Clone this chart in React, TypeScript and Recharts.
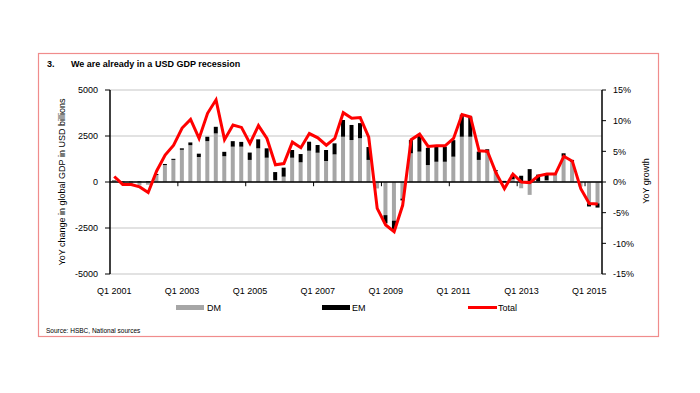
import React from 'react';
import { ComposedChart, Bar, Line, XAxis, YAxis, CartesianGrid, ReferenceLine } from 'recharts';

const quarters: string[] = [
  'Q1 2001', 'Q2 2001', 'Q3 2001', 'Q4 2001',
  'Q1 2002', 'Q2 2002', 'Q3 2002', 'Q4 2002',
  'Q1 2003', 'Q2 2003', 'Q3 2003', 'Q4 2003',
  'Q1 2004', 'Q2 2004', 'Q3 2004', 'Q4 2004',
  'Q1 2005', 'Q2 2005', 'Q3 2005', 'Q4 2005',
  'Q1 2006', 'Q2 2006', 'Q3 2006', 'Q4 2006',
  'Q1 2007', 'Q2 2007', 'Q3 2007', 'Q4 2007',
  'Q1 2008', 'Q2 2008', 'Q3 2008', 'Q4 2008',
  'Q1 2009', 'Q2 2009', 'Q3 2009', 'Q4 2009',
  'Q1 2010', 'Q2 2010', 'Q3 2010', 'Q4 2010',
  'Q1 2011', 'Q2 2011', 'Q3 2011', 'Q4 2011',
  'Q1 2012', 'Q2 2012', 'Q3 2012', 'Q4 2012',
  'Q1 2013', 'Q2 2013', 'Q3 2013', 'Q4 2013',
  'Q1 2014', 'Q2 2014', 'Q3 2014', 'Q4 2014',
  'Q1 2015', 'Q2 2015',
];

// YoY change in USD billions, developed markets
const dmValues: number[] = [
  50, -80, -100, -180, -150, 380, 920, 1200,
  1750, 2000, 1360, 2220, 2640, 1400, 1920, 1920,
  1200, 1830, 1320, 110, 290, 1320, 1070, 1700,
  1590, 1140, 1500, 2460, 2280, 2380, 1200, -350,
  -1800, -2100, -900, 1560, 1650, 920, 1100, 1100,
  1375, 2460, 2460, 1200, 1600, 600, -50, 150,
  -340, -700, 50, 100, 420, 1380, 1100, -250,
  -1160, -1160,
];

// YoY change in USD billions, emerging markets
const emValues: number[] = [
  30, 20, 20, 30, 30, 50, 60, 60,
  80, 150, 180, 240, 360, 240, 300, 260,
  400, 490, 510, 430, 490, 420, 450, 490,
  420, 600, 600, 910, 820, 820, 700, 0,
  -450, -550, -100, 720, 900, 940, 820, 820,
  900, 1200, 1100, 450, 180, 50, 60, 250,
  340, 700, 350, 300, 50, 180, 100, 0,
  -170, -230,
];

// YoY growth, %
const totalGrowth: number[] = [
  0.9, -0.4, -0.4, -0.8, -1.7, 1.8, 4.4, 6.0,
  8.8, 10.2, 7.1, 11.2, 13.4, 6.9, 9.3, 8.9,
  6.3, 9.2, 7.1, 2.8, 3.0, 6.5, 5.6, 7.9,
  7.2, 6.0, 7.1, 11.3, 10.4, 10.5, 7.3, -4.3,
  -7.0, -8.1, -3.8, 6.9, 7.8, 5.8, 5.9, 5.9,
  7.1, 11.0, 10.6, 5.1, 5.0, 1.5, -1.1, 1.3,
  0.0, -0.1, 1.0, 1.3, 1.3, 4.2, 3.4, -1.1,
  -3.5, -3.6,
];

const xTickLabels: string[] = ['Q1 2001', 'Q1 2003', 'Q1 2005', 'Q1 2007', 'Q1 2009', 'Q1 2011', 'Q1 2013', 'Q1 2015'];
const leftTicks: number[] = [-5000, -2500, 0, 2500, 5000];
const rightTicks: number[] = [-15, -10, -5, 0, 5, 10, 15];

const data = quarters.map((q, i) => ({ q, dm: dmValues[i], em: emValues[i], total: totalGrowth[i] }));

const FONT = '"Liberation Sans", Arial, sans-serif';

export default function App() {
  return (
    <div style={{ position: 'absolute', left: 0, top: 0, width: 700, height: 393, background: '#fff', fontFamily: FONT }}>
      <ComposedChart
        width={700}
        height={393}
        data={data}
        stackOffset="sign"
        barCategoryGap={0}
        margin={{ top: 90, right: 48, bottom: 89, left: 50 }}
      >
        <CartesianGrid yAxisId="left" vertical={false} stroke="#d9d9d9" strokeWidth={1.5} />
        <XAxis
          dataKey="q"
          ticks={xTickLabels}
          interval={0}
          axisLine={false}
          tickLine={false}
          tickSize={0}
          tickMargin={14}
          height={30}
          tick={{ fontSize: 9, fill: '#000', fontFamily: FONT }}
        />
        <YAxis
          yAxisId="left"
          domain={[-5000, 5000]}
          ticks={leftTicks}
          interval={0}
          width={60}
          axisLine={{ stroke: '#000', strokeWidth: 1.5 }}
          tickLine={{ stroke: '#000' }}
          tickSize={5}
          tickMargin={7}
          tick={{ fontSize: 9, fill: '#000', fontFamily: FONT }}
        />
        <YAxis
          yAxisId="right"
          orientation="right"
          domain={[-15, 15]}
          ticks={rightTicks}
          interval={0}
          width={50}
          axisLine={{ stroke: '#000', strokeWidth: 1.5 }}
          tickLine={{ stroke: '#000' }}
          tickSize={4}
          tickMargin={7}
          tickFormatter={(v: number) => `${v}%`}
          tick={{ fontSize: 9, fill: '#000', fontFamily: FONT }}
        />
        <Bar yAxisId="left" dataKey="dm" stackId="a" fill="#a6a6a6" barSize={4} isAnimationActive={false} />
        <Bar yAxisId="left" dataKey="em" stackId="a" fill="#000000" barSize={4} isAnimationActive={false} />
        <ReferenceLine yAxisId="left" y={0} stroke="#000" strokeWidth={1.5} />
        {xTickLabels.slice(1).map((l) => (
          <ReferenceLine
            key={l}
            yAxisId="left"
            position="start"
            segment={[{ x: l, y: 0 }, { x: l, y: -230 }]}
            stroke="#000"
            strokeWidth={1}
          />
        ))}
        <Line
          yAxisId="right"
          dataKey="total"
          type="linear"
          stroke="#ff0000"
          strokeWidth={3}
          dot={false}
          isAnimationActive={false}
        />
      </ComposedChart>
      <svg
        width={700}
        height={393}
        style={{ position: 'absolute', left: 0, top: 0, pointerEvents: 'none' }}
        fontFamily={FONT}
      >
        <rect x={38.5} y={53.5} width={620} height={283} fill="none" stroke="#f08c8c" strokeWidth={1.2} />
        <text x={47} y={66.5} fontSize={9} fontWeight="bold" fill="#000">3.</text>
        <text x={71} y={66.5} fontSize={9} fontWeight="bold" fill="#000">We are already in a USD GDP recession</text>
        <text
          x={62}
          y={182}
          fontSize={9}
          fill="#000"
          textAnchor="middle"
          dominantBaseline="central"
          transform="rotate(-90 62 182)"
        >
          YoY change in global GDP in USD billions
        </text>
        <text
          x={646}
          y={181}
          fontSize={9}
          fill="#000"
          textAnchor="middle"
          dominantBaseline="central"
          transform="rotate(-90 646 181)"
        >
          YoY growth
        </text>
        <rect x={176} y={305} width={28} height={5} fill="#a6a6a6" />
        <text x={207} y={310.7} fontSize={9} fill="#000">DM</text>
        <rect x={322} y={305} width={28} height={5} fill="#000" />
        <text x={352} y={310.7} fontSize={9} fill="#000">EM</text>
        <line x1={468} y1={307.5} x2={497} y2={307.5} stroke="#ff0000" strokeWidth={3} />
        <text x={498} y={310.7} fontSize={9} fill="#000">Total</text>
        <text x={46} y={332.5} fontSize={6.5} fill="#000">Source: HSBC, National sources</text>
      </svg>
    </div>
  );
}
